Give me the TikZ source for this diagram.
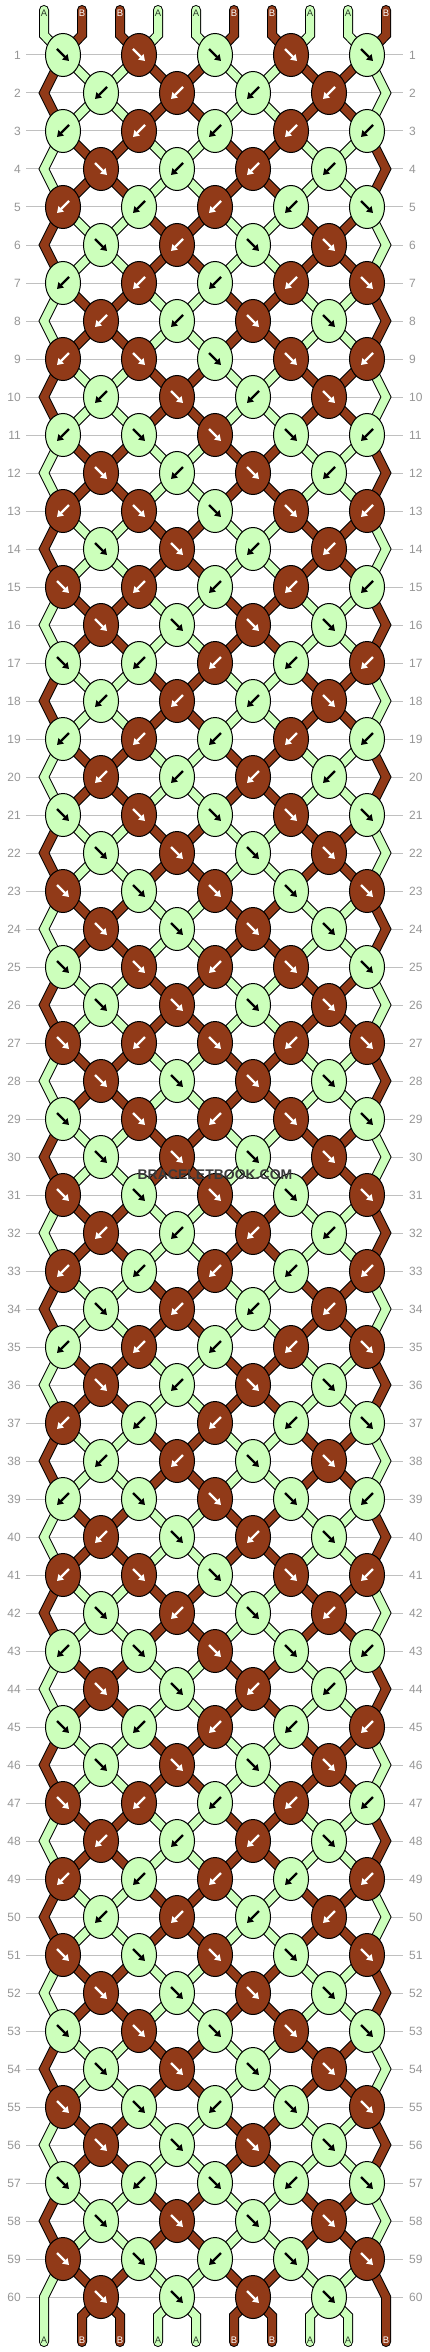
\documentclass[tikz,border=0pt]{standalone}
\usepackage{fontspec}
\setmainfont{Liberation Sans}
\usetikzlibrary{arrows.meta,shapes.geometric}
\definecolor{grn}{RGB}{204,255,187}
\definecolor{brn}{RGB}{145,58,24}
\definecolor{numgray}{RGB}{150,150,150}
\definecolor{rulegray}{RGB}{192,192,192}
\definecolor{labdark}{RGB}{40,60,40}
\definecolor{wmgray}{RGB}{58,58,58}
% colour of string position #1 in the state before row #2
\newcommand\bbcol[2]{%
  \pgfmathtruncatemacro\bbtmp{mod((mod(#1,4)==1)+(mod(#1,4)==2)+(mod(#2,4)==2)+(mod(#2,4)==3),2)}%
  \ifnum\bbtmp=1 \def\stc{brn}\def\arwc{white}\def\lbc{white}\def\lbt{B}%
  \else\def\stc{grn}\def\arwc{black}\def\lbc{labdark}\def\lbt{A}\fi}
\tikzset{
  strand/.style={draw=black, line width=1pt, double=#1, double distance=8pt, line join=miter, line cap=round},
  knotshape/.style={ellipse, draw=black, line width=1pt, minimum width=35pt, minimum height=43pt, inner sep=0pt},
  arrowmark/.style={line width=2.4pt, -{Triangle[length=6pt,width=7.5pt]}},
  rownum/.style={text=numgray, font=\fontsize{12}{14}\selectfont, inner sep=0pt},
  rowrule/.style={draw=rulegray, line width=1pt},
  endlabel/.style={font=\fontsize{9.5}{10}\selectfont, inner sep=0pt},
  watermark/.style={text=wmgray, font=\bfseries\fontsize{14}{16}\selectfont, inner sep=0pt},
}
\begin{document}
\begin{tikzpicture}[x=1pt,y=-1pt]
\useasboundingbox (0,0) rectangle (430,2352);
\fill[white] (0,0) rectangle (430,2352);
% coordinates, rules, row numbers
\foreach \r in {1,...,60}{
  \pgfmathsetmacro\yy{55+38*(\r-1)}
  \pgfmathtruncatemacro\odd{mod(\r,2)}
  \ifnum\odd=1
    \foreach \k in {0,...,4}{\coordinate (c-\r-\k) at ({63+76*\k},\yy);}
  \else
    \foreach \k in {0,...,3}{\coordinate (c-\r-\k) at ({101+76*\k},\yy);}
    \coordinate (eL-\r) at (44,\yy);
    \coordinate (eR-\r) at (386,\yy);
  \fi
  \coordinate (gl-\r) at (26,\yy);
  \coordinate (gr-\r) at (403,\yy);
  \draw[rowrule] (gl-\r) -- (gr-\r);
  \node[rownum, anchor=east] (nl-\r) at (21,\yy) {\r};
  \node[rownum, anchor=west] (nr-\r) at (409,\yy) {\r};
}
% top strings
\foreach \i in {0,...,9}{
  \pgfmathsetmacro\xx{44+38*\i}
  \pgfmathtruncatemacro\kk{floor(\i/2)}
  \coordinate (t-\i) at (\xx,10);
  \coordinate (tb-\i) at (\xx,35);
  \bbcol{\i}{1}
  \draw[strand=\stc] (t-\i) -- (tb-\i) -- (c-1-\kk);
}
% strings between rows
\foreach \r in {1,...,59}{
  \pgfmathtruncatemacro\odd{mod(\r,2)}
  \pgfmathtruncatemacro\rn{\r+1}
  \ifnum\odd=1
    \foreach \k in {1,...,4}{
      \pgfmathtruncatemacro\pp{2*\k}\pgfmathtruncatemacro\km{\k-1}
      \bbcol{\pp}{\rn}
      \draw[strand=\stc] (c-\r-\k) -- (c-\rn-\km);}
    \foreach \k in {0,...,3}{
      \pgfmathtruncatemacro\pp{2*\k+1}
      \bbcol{\pp}{\rn}
      \draw[strand=\stc] (c-\r-\k) -- (c-\rn-\k);}
  \else
    \foreach \k in {0,...,3}{
      \pgfmathtruncatemacro\pp{2*\k+1}\pgfmathtruncatemacro\kp{\k+1}
      \bbcol{\pp}{\rn}
      \draw[strand=\stc] (c-\r-\k) -- (c-\rn-\k);
      \pgfmathtruncatemacro\pp{2*\k+2}
      \bbcol{\pp}{\rn}
      \draw[strand=\stc] (c-\r-\k) -- (c-\rn-\kp);}
    \pgfmathtruncatemacro\rp{\r-1}
    \bbcol{0}{\r}
    \draw[strand=\stc] (c-\rp-0) -- (eL-\r) -- (c-\rn-0);
    \bbcol{9}{\r}
    \draw[strand=\stc] (c-\rp-4) -- (eR-\r) -- (c-\rn-4);
  \fi
}
% bottom strings
\foreach \pp in {0,...,9}{
  \pgfmathsetmacro\xx{44+38*\pp}
  \coordinate (be-\pp) at (\xx,2342);
  \coordinate (bb-\pp) at (\xx,2316);
  \bbcol{\pp}{61}
  \ifnum\pp=0 \draw[strand=\stc] (c-59-0) -- (eL-60) -- (be-0);
  \else\ifnum\pp=9 \draw[strand=\stc] (c-59-4) -- (eR-60) -- (be-9);
  \else
    \pgfmathtruncatemacro\jj{floor((\pp-1)/2)}
    \draw[strand=\stc] (c-60-\jj) -- (bb-\pp) -- (be-\pp);
  \fi\fi
}
% knots
\foreach \r/\qa/\qb/\qc/\qd/\qe in {
 1/R/R/R/R/R, 2/L/L/L/L/x, 3/L/L/L/L/L, 4/R/L/L/L/x, 5/L/L/L/L/R,
 6/R/L/R/R/x, 7/L/L/L/L/R, 8/L/L/R/R/x, 9/L/R/R/R/L, 10/L/R/L/R/x,
 11/L/R/R/R/L, 12/R/L/R/L/x, 13/L/R/R/R/L, 14/R/R/L/L/x, 15/R/L/L/L/L,
 16/R/R/R/R/x, 17/R/L/L/L/L, 18/L/L/L/R/x, 19/L/L/L/L/L, 20/L/L/L/L/x,
 21/R/R/R/R/R, 22/R/R/R/R/x, 23/R/R/R/R/R, 24/R/R/R/R/x, 25/R/R/L/R/R,
 26/R/R/R/R/x, 27/R/L/R/L/R, 28/R/R/R/R/x, 29/R/R/L/R/R, 30/R/R/R/R/x,
 31/R/R/R/R/R, 32/L/L/L/L/x, 33/L/L/L/L/L, 34/R/L/L/L/x, 35/L/L/L/L/R,
 36/R/L/R/R/x, 37/L/L/L/L/R, 38/L/L/R/R/x, 39/L/R/R/R/L, 40/L/R/L/R/x,
 41/L/R/R/R/L, 42/R/L/R/L/x, 43/L/R/R/R/L, 44/R/R/L/L/x, 45/R/L/L/L/L,
 46/R/R/R/R/x, 47/R/L/L/L/L, 48/L/L/L/R/x, 49/L/L/L/L/L, 50/L/L/L/L/x,
 51/R/R/R/R/R, 52/R/R/R/R/x, 53/R/R/R/R/R, 54/R/R/R/R/x, 55/R/R/L/R/R,
 56/R/R/R/R/x, 57/R/L/R/L/R, 58/R/R/R/R/x, 59/R/R/L/R/R, 60/R/R/R/R/x}{
  \pgfmathtruncatemacro\odd{mod(\r,2)}
  \ifnum\odd=1 \def\nkk{5}\else\def\nkk{4}\fi
  \foreach \k/\dir in {0/\qa,1/\qb,2/\qc,3/\qd,4/\qe}{
    \ifnum\k<\nkk
      \if\dir R\def\shf{0}\else\def\shf{1}\fi
      \ifnum\odd=1 \pgfmathtruncatemacro\pp{2*\k+\shf}\else\pgfmathtruncatemacro\pp{2*\k+1}\fi
      \bbcol{\pp}{\r}
      \node[knotshape, fill=\stc] (k-\r-\k) at (c-\r-\k) {};
      \if\dir R
        \draw[arrowmark, color=\arwc, shift={(c-\r-\k)}] (-6,-6) -- (6,6);
      \else
        \draw[arrowmark, color=\arwc, shift={(c-\r-\k)}] (6,-6) -- (-6,6);
      \fi
    \fi
  }
}
% string end labels
\foreach \i in {0,...,9}{
  \pgfmathsetmacro\xx{44+38*\i}
  \bbcol{\i}{1}
  \node[endlabel, text=\lbc] (tl-\i) at (\xx,13) {\lbt};
  \bbcol{\i}{61}
  \node[endlabel, text=\lbc] (bl-\i) at (\xx,2340) {\lbt};
}
\node[watermark] (wm) at (215,1175) {BRACELETBOOK.COM};
\end{tikzpicture}
\end{document}
